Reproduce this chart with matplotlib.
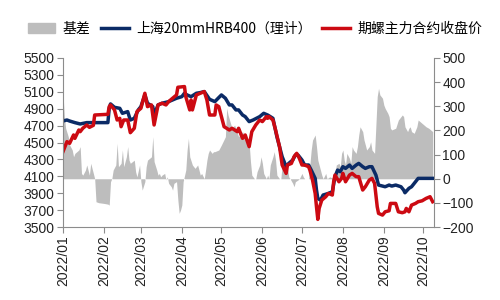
import matplotlib
matplotlib.use("Agg")
import matplotlib.pyplot as plt
import matplotlib.dates as mdates
import matplotlib.patches as mpatches
import matplotlib.lines as mlines
import pandas as pd

plt.rcParams['font.family'] = ['Liberation Sans', 'Noto Sans CJK SC', 'DejaVu Sans']

legend_labels = ["基差", "上海20mmHRB400（理计）", "期螺主力合约收盘价"]
month_ticks = ["2022-01-01", "2022-02-01", "2022-03-01", "2022-04-01", "2022-05-01",
               "2022-06-01", "2022-07-01", "2022-08-01", "2022-09-01", "2022-10-01"]

spot_dates = ["01-01", "01-04", "01-06", "01-10", "01-14", "01-19", "02-04", "02-05", "02-06",
              "02-09", "02-13", "02-15", "02-19", "02-21", "02-24", "02-27", "03-01", "03-04",
              "03-06", "03-10", "03-11", "03-14", "03-17", "03-22", "03-28", "04-01", "04-03",
              "04-05", "04-08", "04-12", "04-15", "04-18", "04-22", "04-26", "04-29", "05-01",
              "05-04", "05-07", "05-09", "05-12", "05-14", "05-17", "05-19", "05-22", "05-25",
              "05-30", "06-02", "06-05", "06-07", "06-09", "06-12", "06-16", "06-19", "06-21",
              "06-24", "06-26", "06-28", "07-01", "07-03", "07-06", "07-08", "07-11", "07-12",
              "07-13", "07-15", "07-17", "07-21", "07-24", "07-26", "07-28", "07-30", "08-01",
              "08-03", "08-06", "08-08", "08-11", "08-13", "08-16", "08-18", "08-21", "08-23",
              "08-26", "08-28", "08-31", "09-02", "09-05", "09-07", "09-10", "09-14", "09-16",
              "09-17", "09-20", "09-22", "09-25", "09-27", "10-08"]
spot_values = [4754, 4766, 4754, 4735, 4719, 4735, 4735, 4904, 4956,
               4916, 4904, 4845, 4865, 4766, 4786, 4885, 4924, 5062,
               4964, 4924, 4825, 4944, 4964, 4983, 5023, 5042, 5082,
               5062, 5042, 5082, 5090, 5102, 5011, 4983, 5031, 5062,
               5023, 4944, 4944, 4885, 4885, 4825, 4806, 4747, 4766,
               4806, 4845, 4825, 4806, 4786, 4569, 4332, 4214, 4253,
               4293, 4352, 4352, 4293, 4234, 4234, 4174, 4076, 3938,
               3839, 3819, 3879, 3898, 3918, 4096, 4174, 4155, 4214,
               4194, 4233, 4194, 4233, 4253, 4214, 4194, 4214, 4214,
               4115, 3997, 3985, 3977, 3997, 3985, 3997, 3977, 3938,
               3906, 3958, 3977, 4036, 4076, 4076]

fut_dates = ["01-01", "01-04", "01-06", "01-09", "01-10", "01-13", "01-14", "01-16", "01-19",
             "01-21", "01-24", "01-25", "02-04", "02-05", "02-06", "02-09", "02-11", "02-13",
             "02-14", "02-16", "02-19", "02-21", "02-24", "02-26", "03-01", "03-04", "03-06",
             "03-09", "03-11", "03-14", "03-17", "03-20", "03-22", "03-25", "03-28", "03-29",
             "04-03", "04-04", "04-07", "04-08", "04-09", "04-12", "04-15", "04-18", "04-20",
             "04-22", "04-26", "04-27", "04-29", "05-03", "05-07", "05-09", "05-13", "05-14",
             "05-17", "05-19", "05-22", "05-24", "05-27", "05-30", "06-01", "06-02", "06-04",
             "06-05", "06-06", "06-09", "06-11", "06-14", "06-16", "06-19", "06-20", "06-23",
             "06-25", "06-27", "06-29", "07-01", "07-03", "07-06", "07-07", "07-09", "07-11",
             "07-12", "07-13", "07-14", "07-16", "07-19", "07-21", "07-24", "07-25", "07-26",
             "07-29", "07-31", "08-01", "08-03", "08-06", "08-08", "08-11", "08-13", "08-16",
             "08-18", "08-21", "08-23", "08-25", "08-27", "08-28", "08-31", "09-02", "09-05",
             "09-06", "09-10", "09-12", "09-15", "09-17", "09-18", "09-20", "09-22", "09-25",
             "09-27", "09-30", "10-03", "10-06", "10-08"]
fut_values = [4392, 4510, 4490, 4589, 4549, 4648, 4628, 4668, 4707,
              4679, 4703, 4825, 4833, 4924, 4944, 4885, 4766, 4786,
              4687, 4766, 4766, 4616, 4668, 4865, 4904, 5082, 4924,
              4944, 4707, 4944, 4964, 4944, 4983, 5023, 5062, 5153,
              5161, 5042, 4885, 5003, 4885, 5062, 5082, 5102, 5003,
              4825, 4825, 4944, 4924, 4687, 4648, 4668, 4628, 4668,
              4549, 4589, 4451, 4628, 4707, 4766, 4747, 4766, 4806,
              4786, 4806, 4766, 4648, 4451, 4234, 4135, 4234, 4253,
              4332, 4372, 4313, 4234, 4234, 4214, 4174, 4056, 3898,
              3740, 3591, 3721, 3819, 3859, 3898, 3879, 4036, 4115,
              4036, 4076, 4135, 4036, 4115, 4135, 4096, 4096, 3938,
              3977, 4056, 4076, 4017, 3740, 3662, 3642, 3681, 3693,
              3780, 3780, 3681, 3670, 3681, 3721, 3681, 3760, 3780,
              3800, 3811, 3839, 3859, 3800]

basis_dates = ["01-01", "01-02", "01-03", "01-05", "01-06", "01-08", "01-09", "01-10", "01-13",
               "01-14", "01-15", "01-16", "01-18", "01-19", "01-21", "01-22", "01-24", "01-25",
               "01-26", "01-28", "02-01", "02-04", "02-05", "02-06", "02-07", "02-08", "02-10",
               "02-11", "02-12", "02-13", "02-14", "02-15", "02-16", "02-18", "02-19", "02-20",
               "02-21", "02-24", "02-25", "02-26", "02-28", "03-01", "03-02", "03-04", "03-05",
               "03-06", "03-09", "03-10", "03-11", "03-13", "03-14", "03-15", "03-16", "03-17",
               "03-19", "03-20", "03-21", "03-22", "03-24", "03-25", "03-26", "03-28", "03-29",
               "03-30", "03-31", "04-01", "04-02", "04-04", "04-05", "04-06", "04-07", "04-09",
               "04-11", "04-13", "04-14", "04-15", "04-16", "04-18", "04-19", "04-20", "04-21",
               "04-22", "04-24", "04-25", "04-26", "04-29", "05-01", "05-04", "05-05", "05-06",
               "05-09", "05-11", "05-14", "05-17", "05-19", "05-22", "05-23", "05-24", "05-26",
               "05-27", "05-28", "05-30", "05-31", "06-01", "06-02", "06-04", "06-05", "06-06",
               "06-07", "06-09", "06-10", "06-11", "06-12", "06-14", "06-15", "06-16", "06-17",
               "06-19", "06-20", "06-21", "06-22", "06-24", "06-25", "06-26", "06-28", "06-29",
               "07-01", "07-02", "07-03", "07-06", "07-08", "07-09", "07-11", "07-12", "07-13",
               "07-15", "07-16", "07-17", "07-19", "07-20", "07-22", "07-25", "07-26", "07-27",
               "07-29", "07-30", "07-31", "08-01", "08-02", "08-03", "08-04", "08-06", "08-07",
               "08-08", "08-09", "08-11", "08-12", "08-13", "08-14", "08-16", "08-17", "08-18",
               "08-19", "08-21", "08-22", "08-23", "08-25", "08-27", "08-28", "08-29", "08-31",
               "09-01", "09-02", "09-04", "09-05", "09-06", "09-07", "09-10", "09-12", "09-14",
               "09-15", "09-16", "09-17", "09-19", "09-20", "09-21", "09-22", "09-24", "09-26",
               "09-27", "09-30", "10-03", "10-05", "10-08"]
basis_values = [354, 257, 209, 174, 140, 119, 91, 105, 119,
                133, 22, 15, 36, 57, 15, 64, 22, 0,
                -95, -99, -102, -105, -109, -12, 1, 36, 57,
                147, 50, 57, 64, 119, 50, 91, 133, 77,
                64, 77, 29, 8, 57, -12, -47, -12, 50,
                77, 91, 174, 71, 36, 15, 22, 8, 15,
                22, -5, 8, -19, -33, -47, -19, -12, -88,
                -143, -130, -109, -12, 36, 119, 167, 91, 57,
                43, 57, 36, 15, 22, 0, 36, 77, 105,
                119, 105, 112, 112, 119, 140, 174, 292, 264,
                209, 222, 174, 195, 167, 147, 71, 15, 0,
                0, 29, 57, 91, 64, 22, 0, 15, 0,
                57, 91, 112, 77, 15, 0, 0, 57, 84,
                36, 50, 8, 0, -19, -33, -12, -5, 0,
                22, 8, 0, 0, 119, 160, 181, 133, 77,
                36, 15, 0, 22, 0, 8, 0, 22, 57,
                64, 50, 105, 119, 77, 57, 105, 84, 64,
                133, 119, 105, 133, 181, 215, 195, 160, 140,
                119, 133, 153, 119, 105, 340, 374, 347, 333,
                305, 291, 271, 257, 209, 202, 209, 243, 257,
                264, 257, 215, 195, 209, 215, 195, 188, 215,
                243, 229, 215, 209, 195]

YEAR = "2022-"
spot_x = pd.to_datetime([YEAR + d for d in spot_dates])
fut_x = pd.to_datetime([YEAR + d for d in fut_dates])
basis_x = pd.to_datetime([YEAR + d for d in basis_dates])

fig = plt.figure(figsize=(5, 3), dpi=100)
ax = fig.add_axes([0.126, 0.243, 0.742, 0.564])
ax2 = ax.twinx()

gray = "#bdbdbd"
blue = "#0b2b66"
red = "#cc0a12"

ax2.fill_between(basis_x, basis_values, 0, color=gray, linewidth=0)
ax.plot(spot_x, spot_values, color=blue, lw=2.5)
ax.plot(fut_x, fut_values, color=red, lw=2.5)

ax.set_zorder(ax2.get_zorder() + 1)
ax.patch.set_visible(False)

ax.set_ylim(3500, 5500)
ax.set_yticks(range(3500, 5501, 200))
ax2.set_ylim(-200, 500)
ax2.set_yticks(range(-200, 501, 100))

ax.set_xlim(pd.Timestamp("2022-01-01"), pd.Timestamp("2022-10-09"))
ax.set_xticks(pd.to_datetime(month_ticks))
ax.xaxis.set_major_formatter(mdates.DateFormatter("%Y/%m"))
for lab in ax.get_xticklabels():
    lab.set_rotation(90)

spine_color = "#8c8c8c"
for a in (ax, ax2):
    for s in a.spines.values():
        s.set_color(spine_color)
    a.spines['top'].set_visible(False)
    a.tick_params(axis='both', direction='out', length=4, color=spine_color,
                  labelsize=10, labelcolor="#222222", pad=2)
ax.spines['right'].set_visible(False)
ax2.spines['left'].set_visible(False)
ax2.spines['bottom'].set_visible(False)

handles = [mpatches.Patch(color=gray),
           mlines.Line2D([], [], color=blue, lw=2.5),
           mlines.Line2D([], [], color=red, lw=2.5)]
fig.legend(handles, legend_labels, loc='center left', bbox_to_anchor=(0.03, 0.905),
           ncol=3, frameon=False, handlelength=2.0, handletextpad=0.5, columnspacing=0.8,
           prop={'family': ['Noto Sans CJK SC', 'DejaVu Sans'], 'size': 10})

fig.savefig("out.png", dpi=100)
